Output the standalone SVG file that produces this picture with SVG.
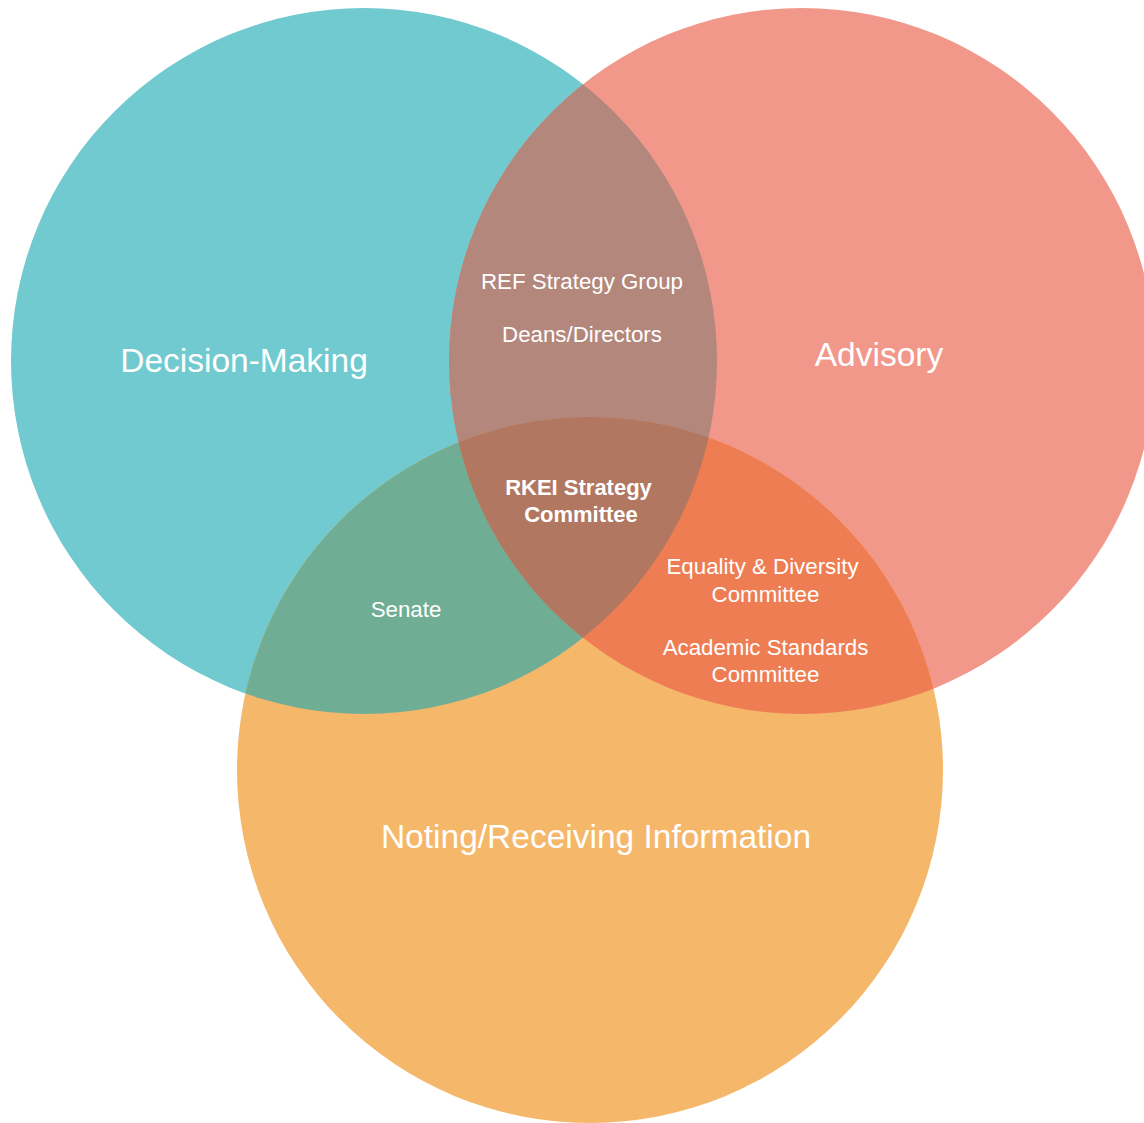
<svg xmlns="http://www.w3.org/2000/svg" width="1144" height="1123" viewBox="0 0 1144 1123">
  <style>
    .lbl { font-family: "Liberation Sans", Arial, Helvetica, sans-serif; fill: #ffffff; text-anchor: middle; }
    .big { font-size: 33.5px; }
    .small { font-size: 22.3px; }
    .bold { font-size: 22px; font-weight: bold; }
  </style>
  <defs>
    <clipPath id="clipDecision"><circle cx="364" cy="361" r="353"/></clipPath>
    <clipPath id="clipAdvisory"><circle cx="802" cy="361" r="353"/></clipPath>
    <clipPath id="clipNoting"><circle cx="590" cy="770" r="353"/></clipPath>
  </defs>

  <rect width="1144" height="1123" fill="#ffffff"/>

  <!-- Set circles -->
  <g id="decision-making">
    <circle cx="364" cy="361" r="353" fill="#71CAD0"/>
  </g>
  <g id="advisory">
    <circle cx="802" cy="361" r="353" fill="#F1988B"/>
  </g>
  <g id="noting-receiving">
    <circle cx="590" cy="770" r="353" fill="#F5B76A"/>
  </g>

  <!-- Pairwise overlaps -->
  <g id="decision-advisory" clip-path="url(#clipDecision)">
    <circle cx="802" cy="361" r="353" fill="#B4877C"/>
  </g>
  <g id="decision-noting" clip-path="url(#clipDecision)">
    <circle cx="590" cy="770" r="353" fill="#6FAE94"/>
  </g>
  <g id="advisory-noting" clip-path="url(#clipAdvisory)">
    <circle cx="590" cy="770" r="353" fill="#EE7D53"/>
  </g>

  <!-- Centre overlap of all three -->
  <g id="all-three" clip-path="url(#clipDecision)">
    <g clip-path="url(#clipAdvisory)">
      <circle cx="590" cy="770" r="353" fill="#B17761"/>
    </g>
  </g>

  <!-- Labels -->
  <g id="labels">
    <text class="lbl big" x="244" y="372">Decision-Making</text>
    <text class="lbl big" x="879" y="366">Advisory</text>
    <text class="lbl big" x="596" y="848">Noting/Receiving Information</text>

    <text class="lbl small" x="582" y="289">REF Strategy Group</text>
    <text class="lbl small" x="582" y="342">Deans/Directors</text>

    <text class="lbl bold" x="578.5" y="495">RKEI Strategy</text>
    <text class="lbl bold" x="581" y="522">Committee</text>

    <text class="lbl small" x="406" y="617">Senate</text>

    <text class="lbl small" x="762.5" y="574">Equality &amp; Diversity</text>
    <text class="lbl small" x="765.5" y="602">Committee</text>
    <text class="lbl small" x="765.5" y="655">Academic Standards</text>
    <text class="lbl small" x="765.5" y="682">Committee</text>
  </g>
</svg>
